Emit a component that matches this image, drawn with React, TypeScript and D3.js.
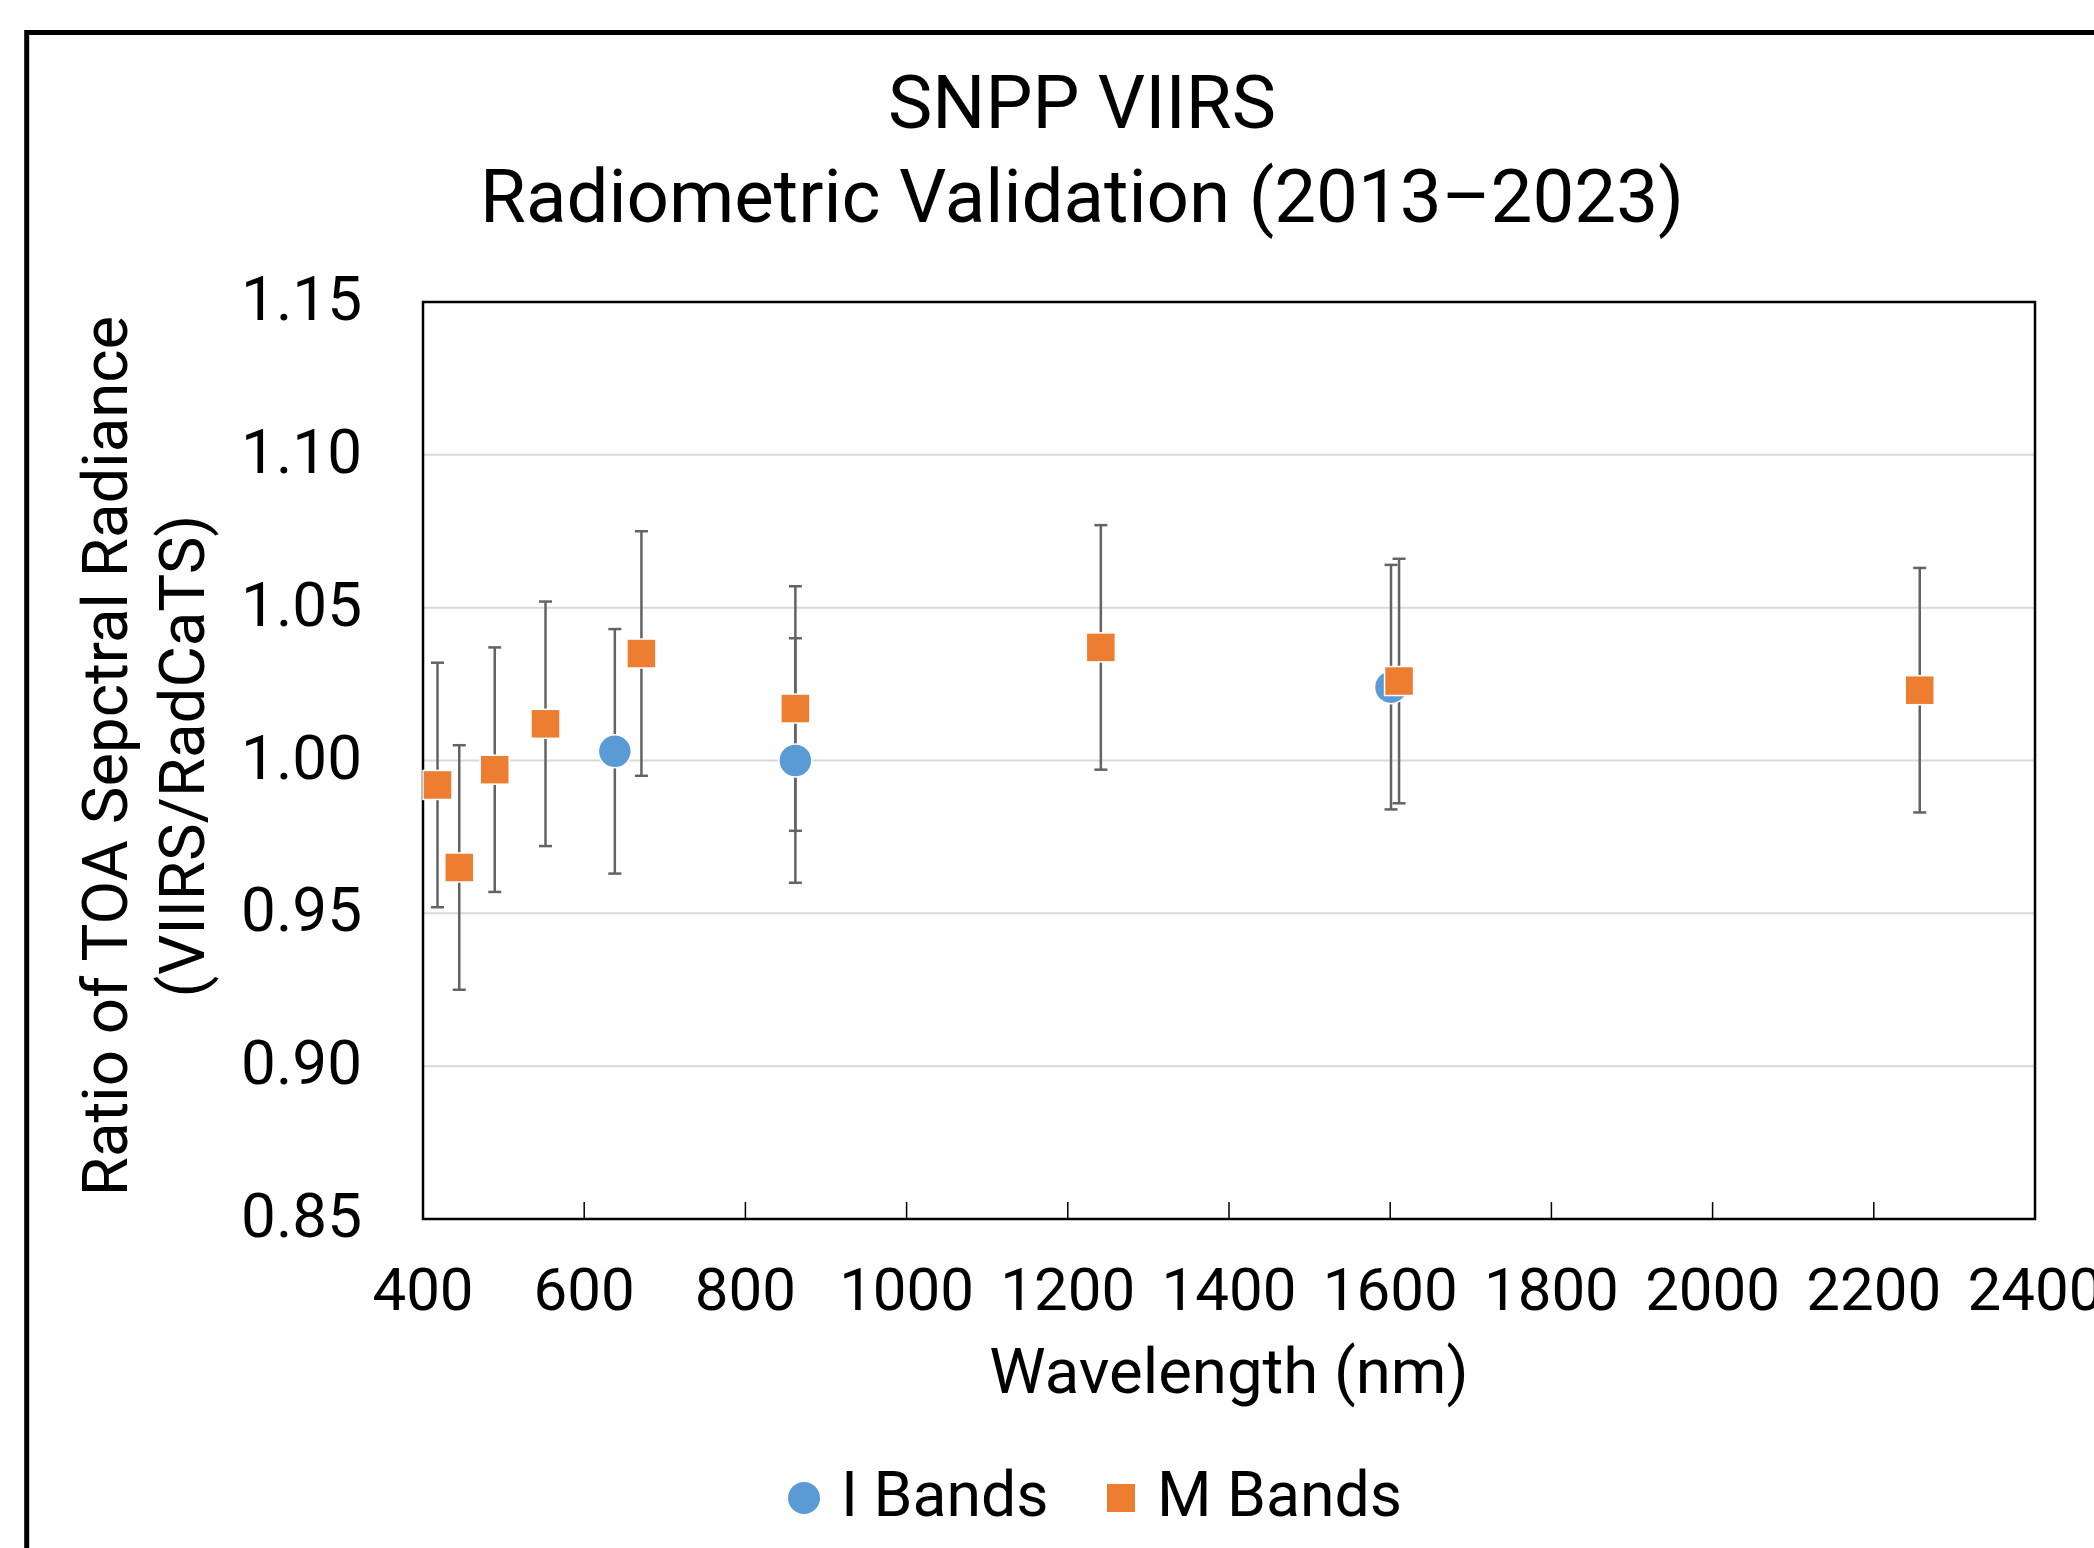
import React from 'react';
import * as d3 from 'd3';

// ---- Data ----
const iBandWavelengths = [638, 862, 1601];
const iBandRatios = [1.003, 1.0, 1.024];
const iBandErrors = [0.04, 0.04, 0.04];

const mBandWavelengths = [418, 445, 489, 552, 671, 862, 1241, 1611, 2257];
const mBandRatios = [0.992, 0.965, 0.997, 1.012, 1.035, 1.017, 1.037, 1.026, 1.023];
const mBandErrors = [0.04, 0.04, 0.04, 0.04, 0.04, 0.04, 0.04, 0.04, 0.04];

const xTickValues = [400, 600, 800, 1000, 1200, 1400, 1600, 1800, 2000, 2200, 2400];
const yTickValues = [0.85, 0.9, 0.95, 1.0, 1.05, 1.1, 1.15];

const titleLines = ['SNPP VIIRS', 'Radiometric Validation (2013\u20132023)'];
const xAxisTitle = 'Wavelength (nm)';
const yAxisTitleLines = ['Ratio of TOA Sepctral Radiance', '(VIIRS/RadCaTS)'];
const seriesNames = ['I Bands', 'M Bands'];

const W = 2094;
const H = 1548;
const FONT = 'Roboto, "Noto Sans", sans-serif';
const BLUE = '#5B9BD5';
const ORANGE = '#ED7D31';
const ERR = '#636363';

export default function App() {
  const left = 423, right = 2035, top = 302, bottom = 1219;
  const x = d3.scaleLinear().domain([400, 2400]).range([left, right]);
  const y = d3.scaleLinear().domain([0.85, 1.15]).range([bottom, top]);

  const iPts = iBandWavelengths.map((w, i) => ({ w, v: iBandRatios[i], e: iBandErrors[i] }));
  const mPts = mBandWavelengths.map((w, i) => ({ w, v: mBandRatios[i], e: mBandErrors[i] }));
  const allPts = [...iPts, ...mPts];
  const capHalf = 6.5;
  const sq = 29;
  const r = 16.5;

  const cx = 1082;

  return (
    <svg
      width={W}
      height={H}
      viewBox={`0 0 ${W} ${H}`}
      style={{ position: 'absolute', left: 0, top: 0, display: 'block', background: '#fff' }}
      fontFamily={FONT}
    >
      <rect x={0} y={0} width={W} height={H} fill="#fff" />
      {/* outer chart frame (cropped) */}
      <rect x={26.7} y={32.5} width={W + 100} height={H + 100} fill="none" stroke="#000" strokeWidth={5} />

      {/* title */}
      {titleLines.map((t, i) => (
        <text key={t} x={cx} y={128 + i * 94} textAnchor="middle" fontSize={74.5} fill="#000">
          {t}
        </text>
      ))}

      {/* gridlines */}
      {yTickValues.filter(v => v > 0.86 && v < 1.14).map(v => (
        <line key={v} x1={left} x2={right} y1={y(v)} y2={y(v)} stroke="#D9D9D9" strokeWidth={2} />
      ))}

      {/* x ticks (inside) */}
      {xTickValues.filter(v => v > 400 && v < 2400).map(v => (
        <line key={v} x1={x(v)} x2={x(v)} y1={bottom} y2={bottom - 17} stroke="#000" strokeWidth={1.5} />
      ))}

      {/* plot border */}
      <rect x={left} y={top} width={right - left} height={bottom - top} fill="none" stroke="#000" strokeWidth={2.5} />

      {/* y tick labels */}
      {yTickValues.map(v => (
        <text key={v} x={362} y={y(v) + 18} textAnchor="end" fontSize={62} fill="#000">
          {d3.format('.2f')(v)}
        </text>
      ))}

      {/* x tick labels */}
      {xTickValues.map(v => (
        <text key={v} x={x(v)} y={bottom + 91} textAnchor="middle" fontSize={60} fill="#000">
          {v}
        </text>
      ))}

      {/* axis titles */}
      <text x={(left + right) / 2} y={1393} textAnchor="middle" fontSize={63.5} fill="#000">
        {xAxisTitle}
      </text>
      {yAxisTitleLines.map((t, i) => (
        <text
          key={t}
          transform={`translate(${127 + i * 77}, 756) rotate(-90)`}
          textAnchor="middle"
          fontSize={63.5}
          fill="#000"
        >
          {t}
        </text>
      ))}

      {/* error bars */}
      {allPts.map((p, i) => (
        <g key={'e' + i} stroke={ERR} strokeWidth={2.5}>
          <line x1={x(p.w)} x2={x(p.w)} y1={y(p.v + p.e)} y2={y(p.v - p.e)} />
          <line x1={x(p.w) - capHalf} x2={x(p.w) + capHalf} y1={y(p.v + p.e)} y2={y(p.v + p.e)} />
          <line x1={x(p.w) - capHalf} x2={x(p.w) + capHalf} y1={y(p.v - p.e)} y2={y(p.v - p.e)} />
        </g>
      ))}

      {/* markers */}
      {iPts.map((p, i) => (
        <circle key={'i' + i} cx={x(p.w)} cy={y(p.v)} r={r} fill={BLUE} stroke="#fff" strokeWidth={1.5} />
      ))}
      {mPts.map((p, i) => (
        <rect
          key={'m' + i}
          x={x(p.w) - sq / 2}
          y={y(p.v) - sq / 2}
          width={sq}
          height={sq}
          fill={ORANGE}
          stroke="#fff"
          strokeWidth={1.5}
        />
      ))}

      {/* legend */}
      <circle cx={804} cy={1498} r={16} fill={BLUE} />
      <text x={841} y={1516} fontSize={62.5} fill="#000">{seriesNames[0]}</text>
      <rect x={1107} y={1484} width={28} height={28} fill={ORANGE} />
      <text x={1157} y={1516} fontSize={62.5} fill="#000">{seriesNames[1]}</text>
    </svg>
  );
}
